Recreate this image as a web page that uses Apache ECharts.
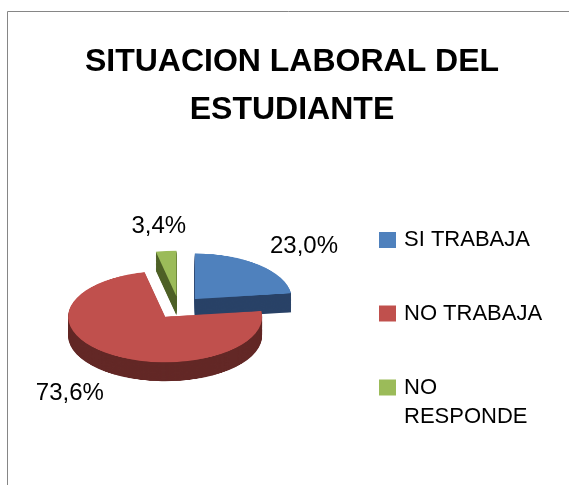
<!DOCTYPE html>
<html>
<head>
<meta charset="utf-8">
<script src="https://cdn.jsdelivr.net/npm/echarts@6/dist/echarts.min.js"></script>
<style>
  html, body { margin: 0; padding: 0; background: #fff; }
  #wrap { position: relative; width: 569px; height: 485px; overflow: hidden; }
  /* the pie is drawn round and squashed to fake the tilted 3D look */
  #pie { position: absolute; left: 0; top: 0; width: 569px; height: 1032px; transform: scaleY(0.47); transform-origin: 0 0; }
  #main { position: absolute; left: 0; top: 0; width: 569px; height: 485px; }
</style>
</head>
<body>
<div id="wrap"><div id="pie"></div><div id="main"></div></div>
<script>
const categories = ['SI TRABAJA', 'NO TRABAJA', 'NO RESPONDE'];
const percentages = [23.0, 73.6, 3.4];
const topColors = ['#4F81BD', '#C0504D', '#9BBB59'];
const sideColors = ['#294267', '#632826', '#4F6228'];

// layout of the fake 3d pie (screen px)
const TILT = 0.47, PIE_CX = 179, PIE_CY = 307.5, PIE_R = 97, DEPTH = 19, EXPLODE = 24;
const LABEL_RX = 189, LABEL_RY = 82;

function pieLayer(dy, colors) {
  return {
    type: 'pie',
    silent: true,
    animation: false,
    center: [PIE_CX, PIE_CY / TILT + dy],
    radius: [0, PIE_R],
    startAngle: 90,
    clockwise: true,
    selectedMode: 'multiple',
    selectedOffset: EXPLODE,
    label: { show: false },
    labelLine: { show: false },
    emphasis: { disabled: true },
    itemStyle: { borderWidth: 0 },
    select: { itemStyle: { borderWidth: 0 } },
    data: categories.map((name, i) => ({
      name: name,
      value: percentages[i],
      selected: true,
      itemStyle: { color: colors[i] }
    }))
  };
}

let layers = [];
const steps = 26;
for (let s = steps; s >= 1; s--) {
  layers.push(pieLayer(DEPTH / TILT * s / steps, sideColors));
}
layers.push(pieLayer(0, topColors));

const pieChart = echarts.init(document.getElementById('pie'));
pieChart.setOption({ animation: false, series: layers });

// mid angle of each slice, clockwise from 12 o'clock
const total = percentages.reduce((a, b) => a + b, 0);
let midAngles = [];
let acc = 0;
percentages.forEach(v => {
  midAngles.push((acc + v / 2) / total * Math.PI * 2);
  acc += v;
});

function fmtPct(v) {
  return v.toFixed(1).replace('.', ',') + '%';
}

const legendText = {
  fontFamily: 'Liberation Sans',
  fontSize: 22,
  lineHeight: 29,
  color: '#000',
  padding: [0, 0, 0, 3]
};

const mainChart = echarts.init(document.getElementById('main'));
mainChart.setOption({
  animation: false,
  color: topColors,
  title: {
    text: 'SITUACION LABORAL DEL\nESTUDIANTE',
    left: 292,
    top: 38,
    padding: 0,
    textAlign: 'center',
    textStyle: {
      fontFamily: 'Liberation Sans',
      fontSize: 32,
      fontWeight: 'bold',
      lineHeight: 48,
      color: '#000'
    }
  },
  legend: [
    {
      orient: 'vertical',
      left: 379,
      top: 225.5,
      padding: 0,
      itemWidth: 17,
      itemHeight: 16,
      itemGap: 44.5,
      icon: 'rect',
      selectedMode: false,
      textStyle: legendText,
      data: categories.slice(0, 2)
    },
    {
      // empty first line keeps the square level with "NO"
      orient: 'vertical',
      left: 379,
      top: 344,
      padding: 0,
      itemWidth: 17,
      itemHeight: 16,
      icon: 'rect',
      selectedMode: false,
      textStyle: legendText,
      formatter: name => '\n' + name.replace(' ', '\n'),
      data: [categories[2]]
    }
  ],
  graphic: [{
    type: 'rect',
    silent: true,
    shape: { x: 7.5, y: 11.5, width: 1000, height: 1000 },
    style: { fill: 'none', stroke: '#868686', lineWidth: 1 }
  }],
  series: [{
    type: 'pie',
    silent: true,
    center: [PIE_CX, PIE_CY],
    radius: [0, 0.01],
    startAngle: 90,
    avoidLabelOverlap: false,
    labelLine: { show: false },
    label: {
      show: true,
      position: 'outside',
      formatter: p => fmtPct(p.value),
      fontFamily: 'Liberation Sans',
      fontSize: 24,
      color: '#000'
    },
    labelLayout: p => {
      const a = midAngles[p.dataIndex];
      const c = Math.cos(a);
      return {
        x: PIE_CX + LABEL_RX * Math.sin(a),
        y: PIE_CY - LABEL_RY * c + (c < 0 ? DEPTH : 0),
        align: 'center',
        verticalAlign: 'middle'
      };
    },
    data: categories.map((name, i) => ({ name: name, value: percentages[i] }))
  }]
});
</script>
</body>
</html>
